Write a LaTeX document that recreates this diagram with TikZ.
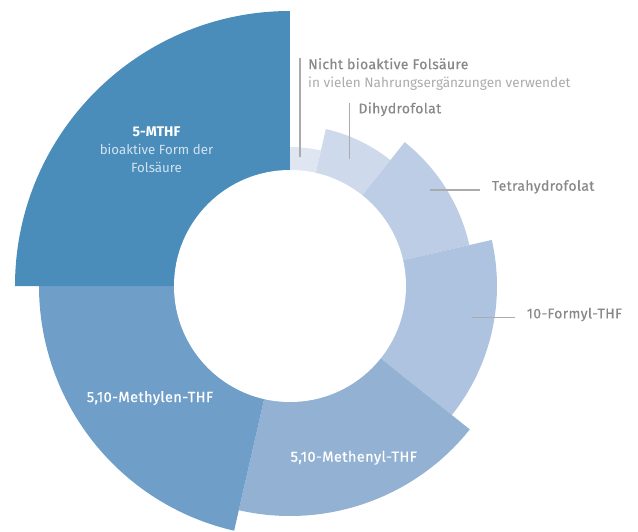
\documentclass[tikz,border=0pt]{standalone}
\usepackage{fontspec}
\setmainfont{Fira Sans}
\newfontfamily\medium{Fira Sans}[FakeBold=0.5, LetterSpace=2.5]
\newcommand\thin{\fontsize{13.6}{18}\selectfont}
\usepackage{xcolor}
\definecolor{mthf}{HTML}{4A8DBB}
\definecolor{methylen}{HTML}{6F9FC9}
\definecolor{methenyl}{HTML}{93B2D3}
\definecolor{formyl}{HTML}{ADC3DF}
\definecolor{tetra}{HTML}{BDCDE5}
\definecolor{dihydro}{HTML}{CEDAEB}
\definecolor{folsaeure}{HTML}{DFE6F1}
\definecolor{labelgray}{HTML}{888888}
\definecolor{lightgray}{HTML}{ABABAB}
\definecolor{lightblue}{HTML}{D2E2F0}

\begin{document}
\begin{tikzpicture}[x=1pt,y=1pt,
            label/.style = {inner sep=0pt,
            text=labelgray,
            font=\medium\fontsize{14}{18}\selectfont},
            inlabel/.style = {label, text=white,
            font=\medium\fontsize{14.6}{18}\selectfont},
            leader/.style = {draw=lightgray, line width=1.1pt}]
        \useasboundingbox (-290,-245) rectangle (348,286);

        % Sectors (start angle / end angle / radius / colour)
        \foreach \a/\b/\r/\c in {90/77.14/139/folsaeure,
                                 77.14/51.43/161/dihydro,
                                 51.43/12.86/184/tetra,
                                 12.86/-38.57/207/formyl,
                                 -38.57/-102.86/230/methenyl,
                                 -102.86/-180/251/methylen,
                                 180/90/275/mthf}
            \fill[\c] (0,0) -- (\a:\r) arc[start angle=\a, end angle=\b, radius=\r] -- cycle;

        % Hole
        \fill[white] (0,0) circle(116);

        % Outside labels
        \node[label, anchor=north west, align=left] (nicht) at (18,228)
            {Nicht bioaktive Folsäure\\{\rmfamily\thin\color{lightgray}in vielen Nahrungsergänzungen verwendet}};
        \node[label, anchor=base west] (dihydro) at (68.3,172.7) {Dihydrofolat};
        \node[label, anchor=base west] (tetra) at (201.7,95.3) {Tetrahydrofolat};
        \node[label, anchor=base west] (formyl) at (236.7,-32.3) {10-Formyl-THF};

        % Leader lines
        \coordinate (nicht a) at (10,228);
        \coordinate (nicht b) at (10,129);
        \coordinate (dihydro a) at (59.3,183);
        \coordinate (dihydro b) at (59.3,127);
        \coordinate (tetra a) at (140,96);
        \coordinate (tetra b) at (190,96);
        \coordinate (formyl a) at (181.7,-31.3);
        \coordinate (formyl b) at (225,-31.3);
        \draw[leader] (nicht a) -- (nicht b);
        \draw[leader] (dihydro a) -- (dihydro b);
        \draw[leader] (tetra a) -- (tetra b);
        \draw[leader] (formyl a) -- (formyl b);

        % Inside labels
        \node[label, text=white, anchor=north, align=center] (mthf) at (-133.5,159.5)
            {{\rmfamily\bfseries 5-MTHF}\\{\rmfamily\fontsize{13.3}{18}\selectfont\color{lightblue}bioaktive Form der}\\{\rmfamily\fontsize{13.3}{18}\selectfont\color{lightblue}Folsäure}};
        \node[inlabel, anchor=base] (methylen) at (-140,-116) {5,10-Methylen-THF};
        \node[inlabel, anchor=base] (methenyl) at (63.8,-175.7) {5,10-Methenyl-THF};
    \end{tikzpicture}
\end{document}
